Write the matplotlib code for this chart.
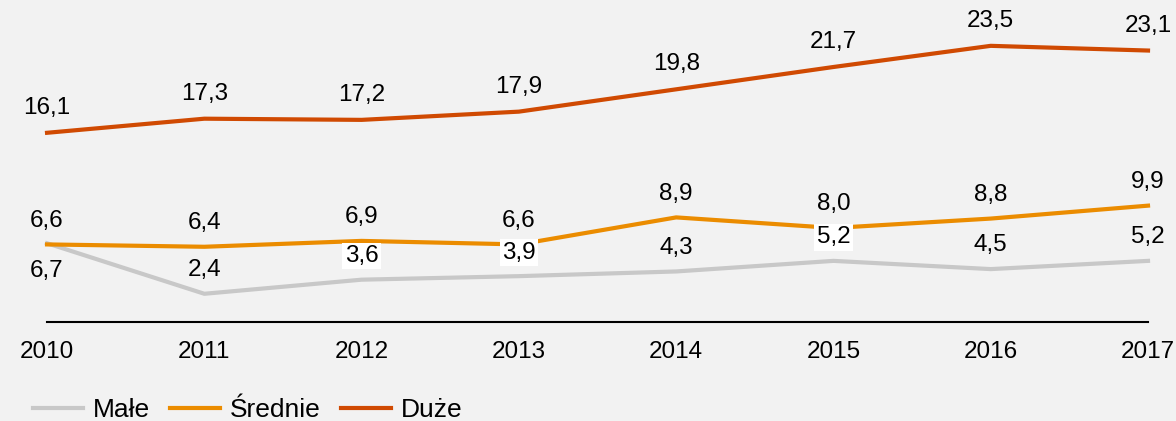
import matplotlib.pyplot as plt

plt.rcParams['font.family'] = ['Liberation Sans', 'DejaVu Sans']

years = [2010, 2011, 2012, 2013, 2014, 2015, 2016, 2017]
male = [6.7, 2.4, 3.6, 3.9, 4.3, 5.2, 4.5, 5.2]
srednie = [6.6, 6.4, 6.9, 6.6, 8.9, 8.0, 8.8, 9.9]
duze = [16.1, 17.3, 17.2, 17.9, 19.8, 21.7, 23.5, 23.1]

bg = '#F2F2F2'
c_male = '#C8C8C8'
c_sred = '#EB8C00'
c_duze = '#D04A02'
fs = 17.5

fig = plt.figure(figsize=(11.76, 4.21), dpi=100, facecolor=bg)
ax = fig.add_axes([0.040, 0.2352, 0.9362, 0.7257])
ax.set_facecolor(bg)

ax.plot(years, male, color=c_male, lw=3, label='Małe', clip_on=False, zorder=2)
ax.plot(years, srednie, color=c_sred, lw=3, label='Średnie', clip_on=False, zorder=3)
ax.plot(years, duze, color=c_duze, lw=3, label='Duże', clip_on=False, zorder=3)

def fmt(v):
    return ('%.1f' % v).replace('.', ',')

for x, v in zip(years, duze):
    ax.annotate(fmt(v), (x, v), xytext=(0, 18), textcoords='offset points',
                ha='center', va='center', fontsize=fs)
for x, v in zip(years, srednie):
    ax.annotate(fmt(v), (x, v), xytext=(0, 17), textcoords='offset points',
                ha='center', va='center', fontsize=fs)
boxed = [2012, 2013, 2015]
for x, v in zip(years, male):
    dy = -20 if x == 2010 else 17
    bbox = dict(boxstyle='square,pad=0.1', fc='white', ec='none') if x in boxed else None
    ax.annotate(fmt(v), (x, v), xytext=(0, dy), textcoords='offset points',
                ha='center', va='center', fontsize=fs, bbox=bbox, zorder=5)

ax.set_xlim(2010, 2017)
ax.set_ylim(0, 26)
ax.set_xticks(years)
ax.set_yticks([])
ax.tick_params(axis='x', length=0, pad=14, labelsize=fs)
for s in ['top', 'right', 'left']:
    ax.spines[s].set_visible(False)
ax.spines['bottom'].set_linewidth(1.5)
ax.spines['bottom'].set_color('black')

fig.legend(loc='center left', bbox_to_anchor=(0.028, 0.025), ncol=3, frameon=False,
           fontsize=19, handlelength=1.9, handletextpad=0.38, columnspacing=0.75,
           borderaxespad=0, borderpad=0)

fig.savefig('out.png', dpi=100, facecolor=bg)
